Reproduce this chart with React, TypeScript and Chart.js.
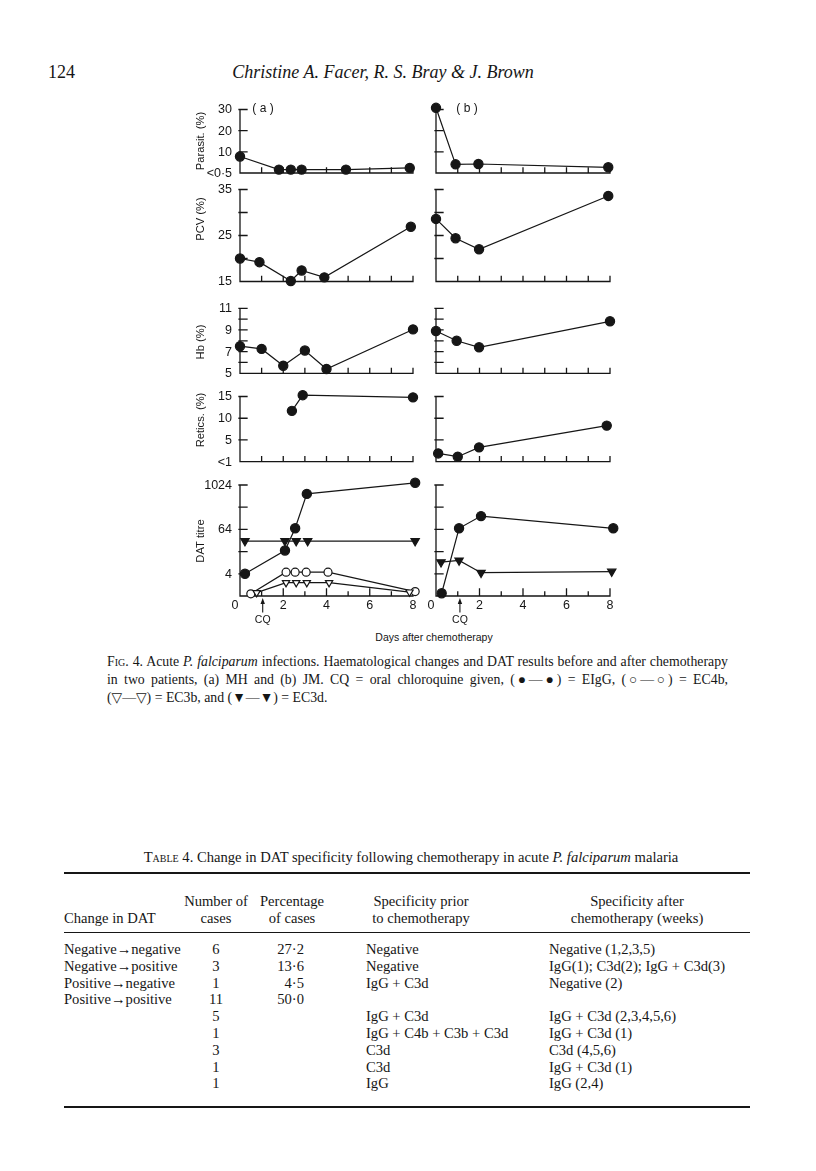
import React, { useEffect, useRef } from "react";
import { Chart, registerables } from "chart.js";
Chart.register(...registerables);

const INK = "#161616";
const SANS = '"Liberation Sans", "DejaVu Sans", sans-serif';
const SERIF = '"Liberation Serif", "DejaVu Serif", serif';

// ---------- chart data (days after chemotherapy, values) ----------
const parasitA_days = [0, 1.8, 2.35, 2.85, 4.9, 7.85];
const parasitA = [7.8, 1.6, 1.6, 1.6, 1.6, 2.4];
const parasitB_days = [0, 0.9, 1.95, 7.92];
const parasitB = [30.8, 4.1, 4.25, 2.7];

const pcvA_days = [0, 0.9, 2.35, 2.85, 3.9, 7.9];
const pcvA = [20.0, 19.2, 15.1, 17.4, 15.9, 26.9];
const pcvB_days = [0, 0.9, 1.98, 7.92];
const pcvB = [28.6, 24.4, 22.0, 33.6];

const hbA_days = [0, 1, 2, 3, 4, 8];
const hbA = [7.5, 7.25, 5.7, 7.1, 5.4, 9.05];
const hbB_days = [0, 0.95, 1.98, 8.0];
const hbB = [8.9, 8.0, 7.4, 9.8];

const reticsA_days = [2.4, 2.9, 8];
const reticsA = [11.7, 15.3, 14.8];
const reticsB_days = [0.1, 1.0, 1.98, 7.85];
const reticsB = [1.9, 1.15, 3.3, 8.3];

// DAT titre in log2 units (2 = 4, 6 = 64, 10 = 1024)
const datA_EIgG_days = [0.23, 2.08, 2.55, 3.09, 8.1];
const datA_EIgG = [2.0, 4.1, 6.1, 9.2, 10.2];
const datA_EC3d_days = [0.23, 2.08, 2.6, 3.13, 8.1];
const datA_EC3d = [4.95, 4.95, 4.95, 4.95, 4.95];
const datA_EC4b_days = [0.5, 2.13, 2.55, 3.06, 4.07, 8.1];
const datA_EC4b = [0.2, 2.15, 2.15, 2.15, 2.15, 0.4];
const datA_EC3b_days = [0.77, 2.13, 2.6, 3.09, 4.12, 7.84];
const datA_EC3b = [0.3, 1.2, 1.2, 1.2, 1.2, 0.35];
const datB_EIgG_days = [0.26, 1.06, 2.07, 8.15];
const datB_EIgG = [0.25, 6.1, 7.2, 6.1];
const datB_EC3d_days = [0.23, 1.06, 2.07, 8.08];
const datB_EC3d = [3.05, 3.2, 2.1, 2.2];

// ---------- axis ticks ----------
const dayTicks = [1, 2, 3, 4, 5, 6, 7, 8];
const dayLabelValues = [0, 2, 4, 6, 8];
const dayLabels = ["0", "2", "4", "6", "8"];
const cqDay = [1.05, 1.1];

const parasitTicks = [0, 10, 20, 30];
const parasitTickLabels = ["<0·5", "10", "20", "30"];
const pcvTicks = [15, 20, 25, 30, 35];
const pcvTickLabels = ["15", "", "25", "", "35"];
const hbTicks = [5, 6, 7, 8, 9, 10, 11];
const hbTickLabels = ["5", "", "7", "", "9", "", "11"];
const reticsTicks = [0, 5, 10, 15];
const reticsTickLabels = ["<1", "5", "10", "15"];
const datTicks = [0, 2, 4, 6, 8, 10];
const datTickLabels = ["", "4", "", "64", "", "1024"];

// ---------- table data ----------
const tableChange = ["Negative→negative", "Negative→positive", "Positive→negative", "Positive→positive", "", "", "", "", ""];
const tableCases = ["6", "3", "1", "11", "5", "1", "3", "1", "1"];
const tablePercent = ["27·2", "13·6", "4·5", "50·0", "", "", "", "", ""];
const tablePrior = ["Negative", "Negative", "IgG + C3d", "", "IgG + C3d", "IgG + C4b + C3b + C3d", "C3d", "C3d", "IgG"];
const tableAfter = ["Negative (1,2,3,5)", "IgG(1); C3d(2); IgG + C3d(3)", "Negative (2)", "", "IgG + C3d (2,3,4,5,6)", "IgG + C3d (1)", "C3d (4,5,6)", "IgG + C3d (1)", "IgG (2,4)"];
const tableRowY = [949, 966, 983, 999, 1016, 1033, 1050, 1067, 1083];

// ---------- layout ----------
const COLS = [
  { left: 185, width: 240, x0: 240, x8: 413, label: "( a )", labelX: 263 },
  { left: 425, width: 200, x0: 436, x8: 610, label: "( b )", labelX: 467 },
];

type Row = {
  top: number; valTop: number; valBottom: number; bottom: number;
  yMin: number; yMax: number; ticks: number[]; tickLabels: string[];
  title: string; titleY: number; dat?: boolean;
};

const ROWS: Row[] = [
  { top: 98, valTop: 109.5, valBottom: 173, bottom: 184, yMin: 0, yMax: 30, ticks: parasitTicks, tickLabels: parasitTickLabels, title: "Parasit. (%)", titleY: 141 },
  { top: 180, valTop: 189.5, valBottom: 281.5, bottom: 292, yMin: 15, yMax: 35, ticks: pcvTicks, tickLabels: pcvTickLabels, title: "PCV (%)", titleY: 219 },
  { top: 298, valTop: 308.3, valBottom: 373.3, bottom: 384, yMin: 5, yMax: 11, ticks: hbTicks, tickLabels: hbTickLabels, title: "Hb (%)", titleY: 342 },
  { top: 387, valTop: 396.5, valBottom: 461.7, bottom: 472, yMin: 0, yMax: 15, ticks: reticsTicks, tickLabels: reticsTickLabels, title: "Retics. (%)", titleY: 420 },
  { top: 475, valTop: 485, valBottom: 596, bottom: 630, yMin: 0, yMax: 10, ticks: datTicks, tickLabels: datTickLabels, title: "DAT titre", titleY: 541, dat: true },
];

type Style = "filledCircle" | "openCircle" | "filledTri" | "openTri";
type Series = { days: number[]; values: number[]; style: Style };

const PANELS: { col: number; row: number; series: Series[] }[] = [
  { col: 0, row: 0, series: [{ days: parasitA_days, values: parasitA, style: "filledCircle" }] },
  { col: 1, row: 0, series: [{ days: parasitB_days, values: parasitB, style: "filledCircle" }] },
  { col: 0, row: 1, series: [{ days: pcvA_days, values: pcvA, style: "filledCircle" }] },
  { col: 1, row: 1, series: [{ days: pcvB_days, values: pcvB, style: "filledCircle" }] },
  { col: 0, row: 2, series: [{ days: hbA_days, values: hbA, style: "filledCircle" }] },
  { col: 1, row: 2, series: [{ days: hbB_days, values: hbB, style: "filledCircle" }] },
  { col: 0, row: 3, series: [{ days: reticsA_days, values: reticsA, style: "filledCircle" }] },
  { col: 1, row: 3, series: [{ days: reticsB_days, values: reticsB, style: "filledCircle" }] },
  {
    col: 0, row: 4, series: [
      { days: datA_EC3b_days, values: datA_EC3b, style: "openTri" },
      { days: datA_EC4b_days, values: datA_EC4b, style: "openCircle" },
      { days: datA_EC3d_days, values: datA_EC3d, style: "filledTri" },
      { days: datA_EIgG_days, values: datA_EIgG, style: "filledCircle" },
    ],
  },
  {
    col: 1, row: 4, series: [
      { days: datB_EC3d_days, values: datB_EC3d, style: "filledTri" },
      { days: datB_EIgG_days, values: datB_EIgG, style: "filledCircle" },
    ],
  },
];

function datasetFor(s: Series) {
  const tri = s.style === "filledTri" || s.style === "openTri";
  const open = s.style === "openCircle" || s.style === "openTri";
  return {
    data: s.days.map((d, i) => ({ x: d, y: s.values[i] })),
    borderColor: INK,
    borderWidth: 1.2,
    backgroundColor: open ? "#ffffff" : INK,
    pointBackgroundColor: open ? "#ffffff" : INK,
    pointBorderColor: INK,
    pointBorderWidth: 1.2,
    pointStyle: tri ? "triangle" : "circle",
    pointRotation: tri ? 180 : 0,
    pointRadius: s.style === "filledCircle" ? 4.6 : s.style === "filledTri" ? 4.8 : s.style === "openTri" ? 4.2 : 4,
    fill: false,
    tension: 0,
    clip: false as const,
  };
}

function makeAxesPlugin(colIdx: number, rowIdx: number) {
  const row = ROWS[rowIdx];
  const col = COLS[colIdx];
  return {
    id: "panelAxes",
    beforeDatasetsDraw(chart: any) {
      const ctx: CanvasRenderingContext2D = chart.ctx;
      const xs = chart.scales.x;
      const ys = chart.scales.y;
      const ax = xs.getPixelForValue(0);
      const ay = ys.getPixelForValue(row.yMin);
      const xEnd = xs.getPixelForValue(8);
      const yTop = ys.getPixelForValue(row.yMax);
      ctx.save();
      ctx.strokeStyle = INK;
      ctx.fillStyle = INK;
      ctx.lineWidth = 1.3;
      ctx.lineCap = "square";
      ctx.beginPath();
      ctx.moveTo(ax, yTop);
      ctx.lineTo(ax, ay);
      ctx.lineTo(xEnd, ay);
      for (const d of dayTicks) {
        const px = xs.getPixelForValue(d);
        const len = row.dat ? (d % 2 === 0 ? 7 : 4) : 5;
        ctx.moveTo(px, ay);
        ctx.lineTo(px, ay - len);
      }
      for (const v of row.ticks) {
        if (v === row.yMin) continue;
        const py = ys.getPixelForValue(v);
        ctx.moveTo(ax - 1, py);
        ctx.lineTo(ax + 7, py);
      }
      ctx.stroke();

      if (colIdx === 0) {
        ctx.font = `12.5px ${SANS}`;
        ctx.textAlign = "right";
        ctx.textBaseline = "middle";
        row.ticks.forEach((v, i) => {
          const lab = row.tickLabels[i];
          if (!lab) return;
          ctx.fillText(lab, ax - 8, ys.getPixelForValue(v) + 0.5);
        });
        ctx.save();
        ctx.font = `11.2px ${SANS}`;
        ctx.textAlign = "center";
        ctx.translate(201 - col.left, row.titleY - row.top);
        ctx.rotate(-Math.PI / 2);
        ctx.fillText(row.title, 0, 0);
        ctx.restore();
      }

      if (row.dat) {
        ctx.font = `12.5px ${SANS}`;
        ctx.textAlign = "center";
        ctx.textBaseline = "middle";
        dayLabelValues.forEach((d, i) => {
          const px = xs.getPixelForValue(d) + (d === 0 ? -5 : 0);
          ctx.fillText(dayLabels[i], px, ay + 10);
        });
        const cx = xs.getPixelForValue(cqDay[colIdx]);
        ctx.lineWidth = 1.1;
        ctx.beginPath();
        ctx.moveTo(cx, ay + 6);
        ctx.lineTo(cx, ay + 16);
        ctx.stroke();
        ctx.beginPath();
        ctx.moveTo(cx, ay + 2);
        ctx.lineTo(cx - 2.2, ay + 8);
        ctx.lineTo(cx + 2.2, ay + 8);
        ctx.closePath();
        ctx.fill();
        ctx.font = `10.5px ${SANS}`;
        ctx.fillText("CQ", cx, ay + 24);
      }

      if (rowIdx === 0) {
        ctx.font = `12px ${SANS}`;
        ctx.textAlign = "center";
        ctx.textBaseline = "middle";
        ctx.fillText(col.label, col.labelX - col.left, 109 - row.top);
      }
      ctx.restore();
    },
  };
}

function Panel({ p }: { p: { col: number; row: number; series: Series[] } }) {
  const ref = useRef<HTMLCanvasElement>(null);
  const col = COLS[p.col];
  const row = ROWS[p.row];
  const h = row.bottom - row.top;
  useEffect(() => {
    const chart = new Chart(ref.current as HTMLCanvasElement, {
      type: "line",
      data: { datasets: p.series.map(datasetFor) as any },
      options: {
        animation: false,
        responsive: false,
        devicePixelRatio: 1,
        events: [],
        layout: {
          padding: {
            left: col.x0 - col.left,
            right: col.left + col.width - col.x8,
            top: row.valTop - row.top,
            bottom: row.bottom - row.valBottom,
          },
        },
        plugins: { legend: { display: false }, tooltip: { enabled: false }, title: { display: false } },
        scales: {
          x: { type: "linear", min: 0, max: 8, display: false },
          y: { type: "linear", min: row.yMin, max: row.yMax, display: false },
        },
      },
      plugins: [makeAxesPlugin(p.col, p.row)],
    });
    return () => chart.destroy();
  }, []);
  return (
    <canvas
      ref={ref}
      width={col.width}
      height={h}
      style={{ position: "absolute", left: col.left, top: row.top, width: col.width, height: h }}
    />
  );
}

const abs = (left: number, top: number, extra: React.CSSProperties = {}): React.CSSProperties => ({
  position: "absolute", left, top, whiteSpace: "nowrap", ...extra,
});

export default function App() {
  const cellFont: React.CSSProperties = { fontSize: 14.6, lineHeight: "16px" };
  const capFont: React.CSSProperties = { fontSize: 13.8, lineHeight: "18px" };
  return (
    <div style={{ position: "absolute", left: 0, top: 0, width: 816, height: 1171, background: "#fff", color: INK, fontFamily: SERIF, overflow: "hidden" }}>
      <div style={abs(48, 61, { fontSize: 18, lineHeight: "22px" })}>124</div>
      <div style={abs(0, 61, { width: 766, textAlign: "center", fontStyle: "italic", fontSize: 18, lineHeight: "22px" })}>
        Christine A. Facer, R. S. Bray &amp; J. Brown
      </div>

      {PANELS.map((p, i) => <Panel key={i} p={p} />)}

      <div style={abs(334, 630, { width: 200, textAlign: "center", fontFamily: SANS, fontSize: 10.5, lineHeight: "14px" })}>
        Days after chemotherapy
      </div>

      <div style={abs(107, 653, { width: 621, ...capFont, textAlign: "justify", textAlignLast: "justify" as any })}>
        <span style={{ fontVariant: "small-caps" }}>Fig.</span> 4. Acute <i>P. falciparum</i> infections. Haematological changes and DAT results before and after chemotherapy
      </div>
      <div style={abs(107, 671, { width: 621, ...capFont, textAlign: "justify", textAlignLast: "justify" as any })}>
        in two patients, (a) MH and (b) JM. CQ = oral chloroquine given, (●—●) = EIgG, (○—○) = EC4b,
      </div>
      <div style={abs(107, 689, capFont)}>
        (▽—▽) = EC3b, and (▼—▼) = EC3d.
      </div>

      <div style={abs(0, 849, { width: 822, textAlign: "center", fontSize: 14.6, lineHeight: "16px" })}>
        <span style={{ fontVariant: "small-caps" }}>Table</span> 4. Change in DAT specificity following chemotherapy in acute <i>P. falciparum</i> malaria
      </div>
      <div style={{ position: "absolute", left: 64, top: 872, width: 686, height: 2, background: INK }} />

      <div style={abs(166, 893, { width: 100, textAlign: "center", ...cellFont })}>Number of</div>
      <div style={abs(166, 910, { width: 100, textAlign: "center", ...cellFont })}>cases</div>
      <div style={abs(242, 893, { width: 100, textAlign: "center", ...cellFont })}>Percentage</div>
      <div style={abs(242, 910, { width: 100, textAlign: "center", ...cellFont })}>of cases</div>
      <div style={abs(341, 893, { width: 160, textAlign: "center", ...cellFont })}>Specificity prior</div>
      <div style={abs(341, 910, { width: 160, textAlign: "center", ...cellFont })}>to chemotherapy</div>
      <div style={abs(557, 893, { width: 160, textAlign: "center", ...cellFont })}>Specificity after</div>
      <div style={abs(557, 910, { width: 160, textAlign: "center", ...cellFont })}>chemotherapy (weeks)</div>
      <div style={abs(64, 910, cellFont)}>Change in DAT</div>
      <div style={{ position: "absolute", left: 64, top: 932, width: 686, height: 1.2, background: INK }} />

      {tableRowY.map((y, i) => (
        <React.Fragment key={i}>
          {tableChange[i] && <div style={abs(64, y - 8, cellFont)}>{tableChange[i]}</div>}
          <div style={abs(196, y - 8, { width: 40, textAlign: "center", ...cellFont })}>{tableCases[i]}</div>
          {tablePercent[i] && <div style={abs(254, y - 8, { width: 50, textAlign: "right", ...cellFont })}>{tablePercent[i]}</div>}
          {tablePrior[i] && <div style={abs(366, y - 8, cellFont)}>{tablePrior[i]}</div>}
          {tableAfter[i] && <div style={abs(549, y - 8, cellFont)}>{tableAfter[i]}</div>}
        </React.Fragment>
      ))}
      <div style={{ position: "absolute", left: 64, top: 1106, width: 686, height: 1.6, background: INK }} />
    </div>
  );
}
